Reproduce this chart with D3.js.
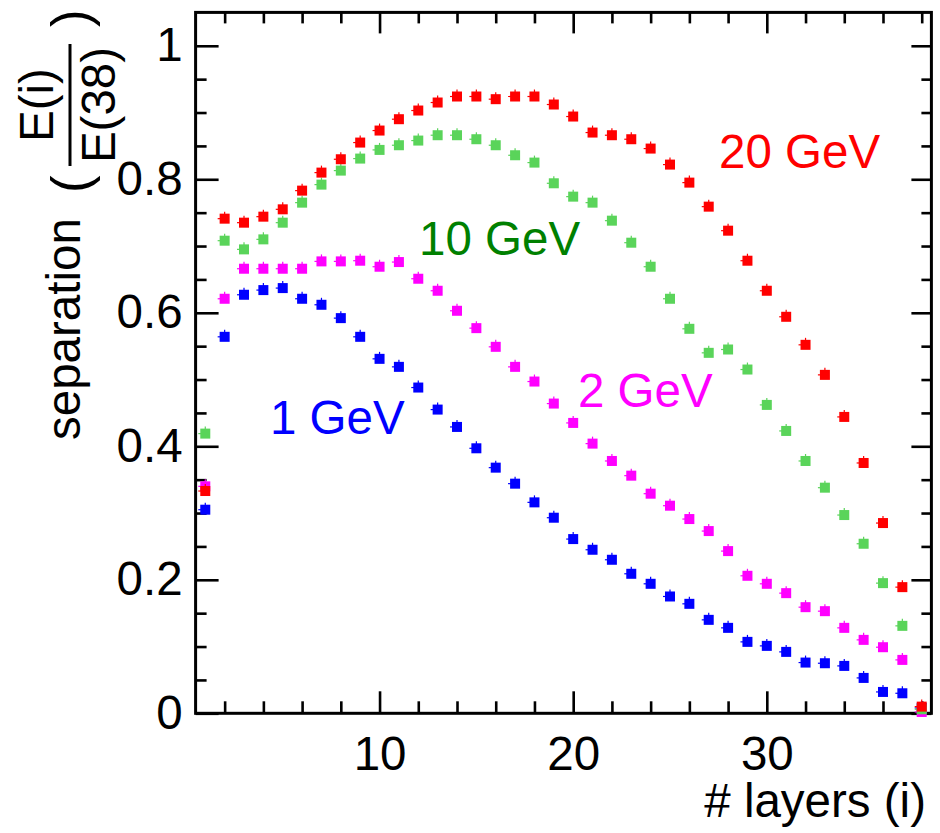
<!DOCTYPE html>
<html>
<head>
<meta charset="utf-8">
<script src="https://cdn.jsdelivr.net/npm/d3@7/dist/d3.min.js"></script>
<style>
  html, body { margin: 0; padding: 0; background: #ffffff; }
  svg { display: block; }
  text { font-family: "Liberation Sans", Arial, Helvetica, sans-serif; }
</style>
</head>
<body>
<svg id="chart" width="940" height="833"></svg>
<script>
// Layer index i (1..38)
const layers = [1, 2, 3, 4, 5, 6, 7, 8, 9, 10, 11, 12, 13, 14, 15, 16, 17, 18, 19,
  20, 21, 22, 23, 24, 25, 26, 27, 28, 29, 30, 31, 32, 33, 34, 35, 36, 37, 38];

// Separation E(i)/E(38) per beam energy
const sep1GeV = [0.305, 0.564, 0.627, 0.634, 0.637, 0.621, 0.612, 0.592, 0.564, 0.531,
  0.519, 0.488, 0.455, 0.429, 0.397, 0.368, 0.344, 0.316, 0.293, 0.261,
  0.245, 0.230, 0.209, 0.194, 0.175, 0.164, 0.140, 0.128, 0.107, 0.101,
  0.092, 0.076, 0.075, 0.071, 0.053, 0.032, 0.030, 0.008];
const sep2GeV = [0.340, 0.621, 0.666, 0.666, 0.666, 0.666, 0.677, 0.677, 0.678, 0.669,
  0.676, 0.651, 0.633, 0.603, 0.577, 0.549, 0.519, 0.497, 0.464, 0.435,
  0.404, 0.378, 0.356, 0.329, 0.311, 0.291, 0.273, 0.243, 0.206, 0.194,
  0.180, 0.159, 0.153, 0.128, 0.110, 0.099, 0.080, 0.002];
const sep10GeV = [0.419, 0.708, 0.695, 0.710, 0.735, 0.765, 0.792, 0.813, 0.831, 0.844,
  0.851, 0.858, 0.866, 0.866, 0.860, 0.851, 0.836, 0.825, 0.794, 0.774,
  0.765, 0.738, 0.705, 0.669, 0.621, 0.576, 0.540, 0.545, 0.515, 0.462,
  0.423, 0.378, 0.338, 0.297, 0.254, 0.195, 0.131, 0.006];
const sep20GeV = [0.333, 0.741, 0.735, 0.744, 0.755, 0.783, 0.810, 0.830, 0.855, 0.873,
  0.890, 0.903, 0.915, 0.924, 0.924, 0.920, 0.924, 0.924, 0.912, 0.894,
  0.870, 0.866, 0.860, 0.846, 0.822, 0.795, 0.759, 0.723, 0.678, 0.633,
  0.594, 0.552, 0.507, 0.444, 0.375, 0.285, 0.189, 0.010];

// Series names, drawn back to front
const seriesNames = ["1 GeV", "2 GeV", "10 GeV", "20 GeV"];
const seriesValues = [sep1GeV, sep2GeV, sep10GeV, sep20GeV];

// Axis ticks
const xMajorTicks = [10, 20, 30];
const xMinorTicks = [2, 4, 6, 8, 12, 14, 16, 18, 22, 24, 26, 28, 32, 34, 36, 38];
const yMajorTicks = [0, 0.2, 0.4, 0.6, 0.8, 1];
const yTickLabels = ["0", "0.2", "0.4", "0.6", "0.8", "1"];
const yMinorTicks = [0.05, 0.1, 0.15, 0.25, 0.3, 0.35, 0.45, 0.5, 0.55, 0.65, 0.7, 0.75,
  0.85, 0.9, 0.95];

const markerColors = { "1 GeV": "#0000ff", "2 GeV": "#ff00ff", "10 GeV": "#5ad45a", "20 GeV": "#ff0000" };
const labelColors = { "1 GeV": "#0000ff", "2 GeV": "#ff00ff", "10 GeV": "#008000", "20 GeV": "#ff0000" };

const frame = { left: 195.6, right: 931.4, top: 12.4, bottom: 713.3 };
const svg = d3.select("#chart");
const FONT = 47.5;

const x = d3.scaleLinear().domain([0.5, 38.5]).range([frame.left, frame.right]);
const y = d3.scaleLinear().domain([0, 1.05]).range([frame.bottom, frame.top]);

// ---- axes (ROOT style: ticks pointing inwards on all four sides) ----
function styleAxis(g) {
  g.select(".domain").remove();
  g.selectAll(".tick line").attr("stroke", "#000").attr("stroke-width", 2.6);
  g.selectAll(".tick text").attr("fill", "#000").attr("font-size", FONT)
    .attr("font-family", "Liberation Sans, Arial, sans-serif");
}

svg.append("g").attr("transform", `translate(0,${frame.bottom})`)
  .call(d3.axisBottom(x).tickValues(xMinorTicks).tickSize(-12).tickFormat(""))
  .call(styleAxis);
svg.append("g").attr("transform", `translate(0,${frame.bottom})`)
  .call(d3.axisBottom(x).tickValues(xMajorTicks).tickSize(-22).tickPadding(23).tickFormat(d3.format("d")))
  .call(styleAxis);
svg.append("g").attr("transform", `translate(0,${frame.top})`)
  .call(d3.axisTop(x).tickValues(xMinorTicks).tickSize(-11).tickFormat(""))
  .call(styleAxis);
svg.append("g").attr("transform", `translate(0,${frame.top})`)
  .call(d3.axisTop(x).tickValues(xMajorTicks).tickSize(-21).tickFormat(""))
  .call(styleAxis);

svg.append("g").attr("transform", `translate(${frame.left},0)`)
  .call(d3.axisLeft(y).tickValues(yMinorTicks).tickSize(-11).tickFormat(""))
  .call(styleAxis);
svg.append("g").attr("transform", `translate(${frame.left},0)`)
  .call(d3.axisLeft(y).tickValues(yMajorTicks).tickSize(-23).tickPadding(13)
    .tickFormat((d, i) => yTickLabels[i]))
  .call(styleAxis);
svg.append("g").attr("transform", `translate(${frame.right},0)`)
  .call(d3.axisRight(y).tickValues(yMinorTicks).tickSize(-10).tickFormat(""))
  .call(styleAxis);
svg.append("g").attr("transform", `translate(${frame.right},0)`)
  .call(d3.axisRight(y).tickValues(yMajorTicks).tickSize(-20).tickFormat(""))
  .call(styleAxis);

// frame
svg.append("rect")
  .attr("x", frame.left).attr("y", frame.top)
  .attr("width", frame.right - frame.left).attr("height", frame.bottom - frame.top)
  .attr("fill", "none").attr("stroke", "#000").attr("stroke-width", 3);

// ---- data points: filled squares with small error-bar stubs ----
const plot = svg.append("g");
seriesNames.forEach((name, s) => {
  const pts = layers.map((l, i) => ({ l, v: seriesValues[s][i] }));
  const col = markerColors[name];
  const g = plot.append("g");
  const m = g.selectAll("g.pt").data(pts).join("g").attr("class", "pt")
    .attr("transform", d => `translate(${x(d.l)},${y(d.v)})`);
  m.append("line").attr("x1", -7).attr("x2", 0).attr("y1", 0).attr("y2", 0)
    .attr("stroke", col).attr("stroke-width", 1.2);
  m.append("line").attr("x1", 0).attr("x2", 0).attr("y1", -7).attr("y2", 0)
    .attr("stroke", col).attr("stroke-width", 1.2);
  m.append("rect").attr("x", -5).attr("y", -5).attr("width", 10).attr("height", 10)
    .attr("fill", col);
});

// ---- series labels ----
const labels = [
  { name: "20 GeV", px: 719, py: 168 },
  { name: "10 GeV", px: 419, py: 255 },
  { name: "2 GeV", px: 578, py: 407 },
  { name: "1 GeV", px: 270, py: 434 }
];
svg.append("g").selectAll("text").data(labels).join("text")
  .attr("x", d => d.px).attr("y", d => d.py)
  .attr("font-size", FONT)
  .attr("fill", d => labelColors[d.name])
  .text(d => d.name);

// ---- axis titles ----
svg.append("text")
  .attr("x", 926).attr("y", 817)
  .attr("text-anchor", "end")
  .attr("font-size", FONT)
  .text("# layers (i)");

const yt = svg.append("g").attr("transform", "translate(80,440) rotate(-90)");
yt.append("text").attr("x", 0).attr("y", 0).attr("font-size", FONT).text("separation");
yt.append("text").attr("x", 247).attr("y", 9).attr("font-size", 53).text("(");
yt.append("text").attr("x", 335).attr("y", -27).attr("text-anchor", "middle")
  .attr("font-size", FONT).text("E(i)");
yt.append("line").attr("x1", 274).attr("x2", 396).attr("y1", -10).attr("y2", -10)
  .attr("stroke", "#000").attr("stroke-width", 3);
yt.append("text").attr("x", 335).attr("y", 35).attr("text-anchor", "middle")
  .attr("font-size", FONT).text("E(38)");
yt.append("text").attr("x", 413).attr("y", 9).attr("font-size", 53).text(")");
</script>
</body>
</html>
